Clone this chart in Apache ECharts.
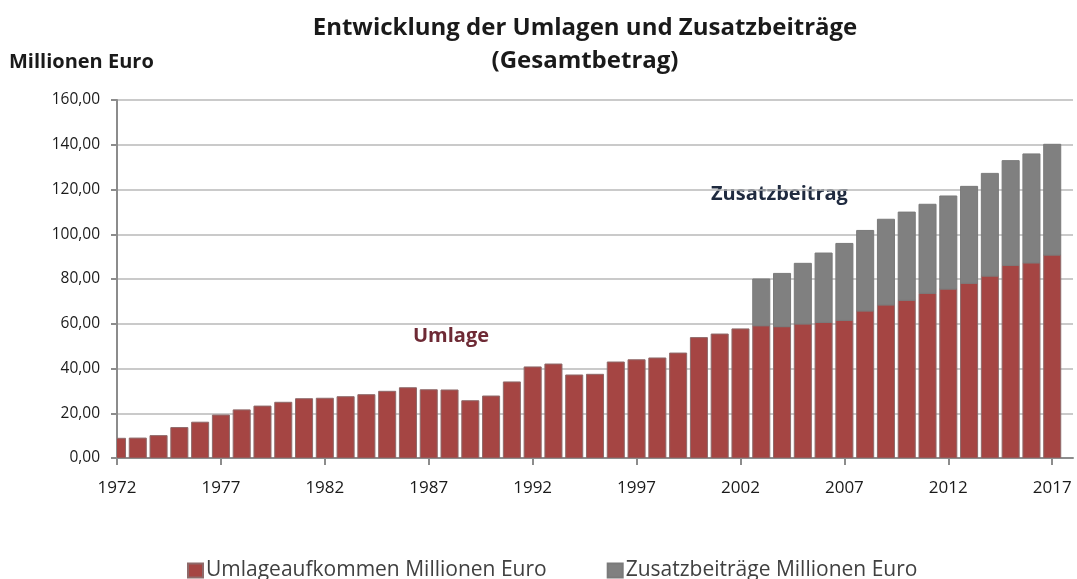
<!DOCTYPE html>
<html>
<head>
<meta charset="utf-8">
<script src="https://cdn.jsdelivr.net/npm/echarts@6/dist/echarts.min.js"></script>
<style>html,body{margin:0;padding:0;background:#fff}#c{width:1077px;height:579px}</style>
</head>
<body>
<div id="c"></div>
<script>
const years = ['1972','1973','1974','1975','1976','1977','1978','1979','1980','1981','1982','1983','1984','1985','1986','1987','1988','1989','1990','1991','1992','1993','1994','1995','1996','1997','1998','1999','2000','2001','2002','2003','2004','2005','2006','2007','2008','2009','2010','2011','2012','2013','2014','2015','2016','2017'];
const umlage = [8.8,8.9,10.0,13.6,16.0,19.2,21.5,23.2,24.9,26.5,26.7,27.4,28.3,29.8,31.4,30.5,30.4,25.6,27.7,34.0,40.7,42.0,37.1,37.4,42.9,43.9,44.7,46.9,53.8,55.4,57.7,59.1,58.7,59.9,60.6,61.5,65.7,68.4,70.5,73.6,75.5,78.1,81.3,86.1,87.2,90.7];
const zusatz = [null,null,null,null,null,null,null,null,null,null,null,null,null,null,null,null,null,null,null,null,null,null,null,null,null,null,null,null,null,null,null,20.9,23.8,27.1,31.0,34.4,36.0,38.3,39.4,39.8,41.6,43.3,45.9,46.8,48.7,49.5];
const yTicks = [0,20,40,60,80,100,120,140,160];
const seriesNames = ['Umlageaufkommen Millionen Euro','Zusatzbeiträge Millionen Euro'];

const axisYears = years.concat(['']);
const umlageData = umlage.map((v,i)=>[i,0,v]);
const zusatzData = [];
zusatz.forEach((v,i)=>{ if(v!=null) zusatzData.push([i, umlage[i], umlage[i]+v]); });

function barItem(params, api){
  const i = api.value(0), lo = api.value(1), hi = api.value(2);
  const p0 = api.coord([i, lo]);
  const p1 = api.coord([i, hi]);
  const w = api.size([1,0])[0] * 0.82;
  return {type:'rect', shape:{x:p0[0]-w/2, y:p1[1], width:w, height:p0[1]-p1[1]}, style:api.style()};
}

const chart = echarts.init(document.getElementById('c'), null, {renderer:'canvas'});
const font = '"Open Sans", Lato, sans-serif';
chart.setOption({
  animation:false,
  title:{
    text:'Entwicklung der Umlagen und Zusatzbeiträge\n(Gesamtbetrag)',
    left:580, top:7, textAlign:'center',
    textStyle:{fontFamily:font,fontSize:24,fontWeight:'bold',color:'#1a1a1a',lineHeight:33}
  },
  graphic:[
    {type:'text',left:9,top:52,style:{text:'Millionen Euro',font:'bold 20px '+font,fill:'#1a1a1a'}},
    {type:'text',left:711,top:184,style:{text:'Zusatzbeitrag',font:'bold 20px '+font,fill:'#1f2a3f'}},
    {type:'text',left:413,top:326,style:{text:'Umlage',font:'bold 20px '+font,fill:'#6e2a35'}}
  ],
  legend:{
    left:182, bottom:-7, itemWidth:15, itemHeight:14, itemGap:60,
    icon:'rect',
    textStyle:{fontFamily:font,fontSize:21,color:'#404040',padding:[0,0,0,-2]},
    data:seriesNames
  },
  grid:{left:117,right:4,top:100,bottom:121,containLabel:false},
  xAxis:{
    type:'category',
    data:axisYears,
    boundaryGap:false,
    axisLine:{lineStyle:{color:'#8c8c8c',width:2}},
    axisTick:{interval:4,length:7,lineStyle:{color:'#8c8c8c',width:2}},
    axisLabel:{interval:4,fontFamily:font,fontSize:17,color:'#1a1a1a',margin:22},
    splitLine:{show:false}
  },
  yAxis:{
    type:'value',min:0,max:160,interval:20,
    axisLine:{show:true,lineStyle:{color:'#8c8c8c',width:2}},
    axisTick:{show:true,length:6,lineStyle:{color:'#8c8c8c',width:2}},
    axisLabel:{fontFamily:font,fontSize:15.5,color:'#1a1a1a',margin:17,
      formatter:v=>yTicks.includes(v)?v.toFixed(2).replace('.',','):''},
    splitLine:{lineStyle:{color:'#b8b8b8',width:1.5}}
  },
  series:[
    {name:seriesNames[0],type:'custom',renderItem:barItem,data:umlageData,clip:true,
     encode:{x:0,y:[1,2]},
     itemStyle:{color:'#a54543',borderColor:'#8e6a6a',borderWidth:1}},
    {name:seriesNames[1],type:'custom',renderItem:barItem,data:zusatzData,clip:true,
     encode:{x:0,y:[1,2]},
     itemStyle:{color:'#808080',borderColor:'#7a7a7a',borderWidth:1}}
  ]
});
</script>
</body>
</html>
